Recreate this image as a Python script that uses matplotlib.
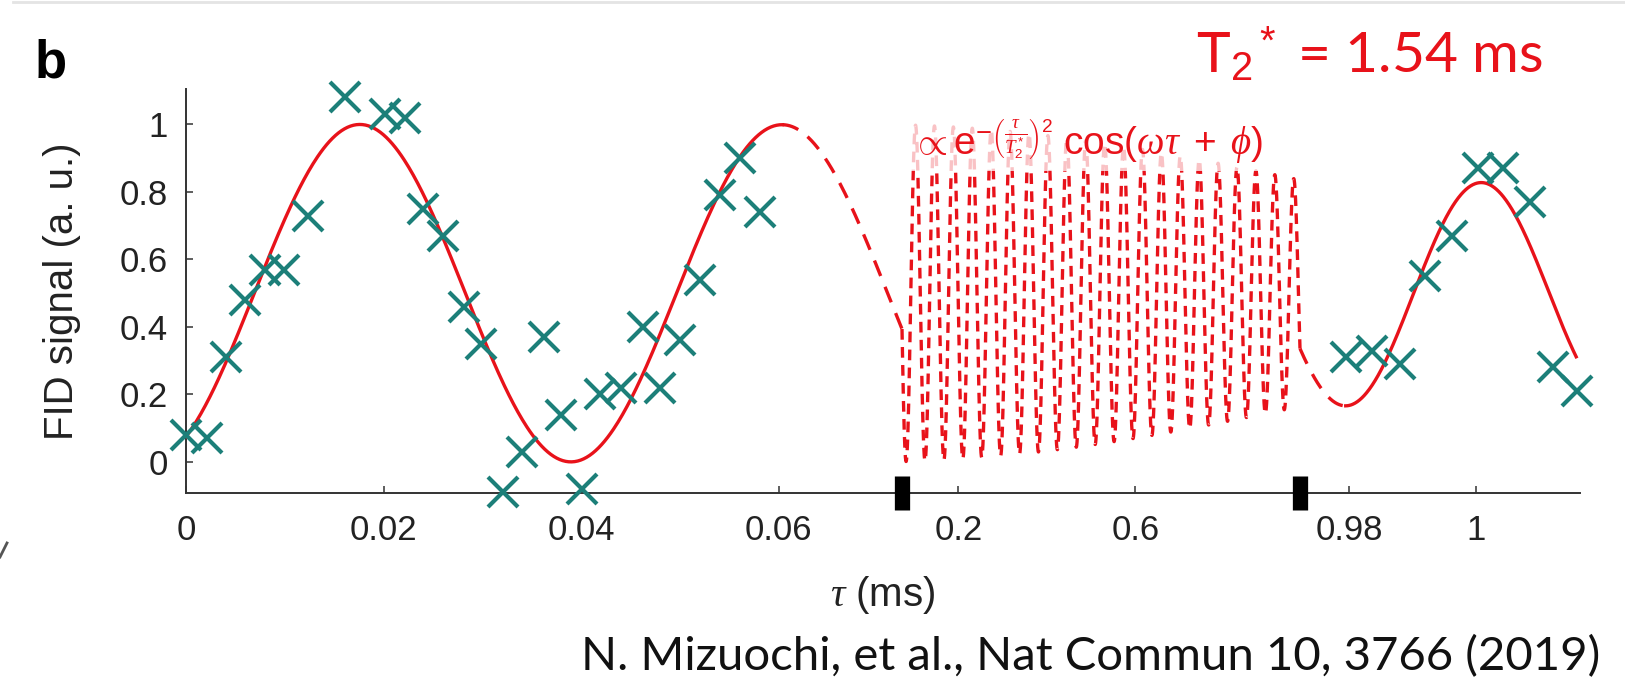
import numpy as np
import matplotlib
matplotlib.use("Agg")
import matplotlib.pyplot as plt
from matplotlib.lines import Line2D

plt.rcParams["font.family"] = ["Liberation Sans", "DejaVu Sans"]
plt.rcParams["mathtext.fontset"] = "custom"
plt.rcParams["mathtext.rm"] = "Liberation Sans"
plt.rcParams["mathtext.it"] = "Liberation Serif:italic"
plt.rcParams["mathtext.bf"] = "Liberation Sans:bold"

# measured FID points, tau in ms
tau_early = [0.0, 0.0021, 0.0041, 0.0060, 0.0080, 0.0099, 0.0124, 0.0161, 0.0202, 0.0222,
             0.0240, 0.0260, 0.0281, 0.0299, 0.0321, 0.0340, 0.0362, 0.0380, 0.0401,
             0.0419, 0.0440, 0.0463, 0.0480, 0.0500, 0.0520, 0.0541, 0.0561, 0.0581]
sig_early = [0.08, 0.07, 0.31, 0.48, 0.57, 0.57, 0.73, 1.08, 1.03, 1.02,
             0.75, 0.67, 0.46, 0.35, -0.09, 0.03, 0.37, 0.14, -0.08,
             0.20, 0.22, 0.40, 0.22, 0.36, 0.54, 0.79, 0.90, 0.74]
tau_late = [0.9796, 0.9836, 0.9880, 0.9920, 0.9962, 1.0004, 1.0043, 1.0085, 1.0121, 1.0159]
sig_late = [0.31, 0.33, 0.29, 0.55, 0.67, 0.87, 0.87, 0.77, 0.28, 0.21]

# fit: offset + amp * exp(-(tau/T2)^2) * cos(omega*tau + phi)
T2_ms = 1.54
omega = 146.97        # rad/ms
phi = -2.587
fit_offset = 0.5
fit_amp = 0.5
solid_end = 0.0604    # left solid part ends here
solid_start = 0.9795  # right solid part starts here
fit_end = 1.0158

# broken axis: tau knots -> axis length units
tau_knots = [0.0, 0.0725, 0.9723, 1.0164]
axis_knots = [0.0, 716.0, 1114.0, 1394.0]
xticks = [0, 0.02, 0.04, 0.06, 0.2, 0.6, 0.98, 1]
xticklabels = ["0", "0.02", "0.04", "0.06", "0.2", "0.6", "0.98", "1"]
yticks = [0, 0.2, 0.4, 0.6, 0.8, 1]
yticklabels = ["0", "0.2", "0.4", "0.6", "0.8", "1"]

red = "#e8121a"
teal = "#1c7f79"


def fid_fit(t):
    return fit_offset + fit_amp * np.exp(-(t / T2_ms) ** 2) * np.cos(omega * t + phi)


def fwd(t):
    return np.interp(t, tau_knots, axis_knots)


def inv(u):
    return np.interp(u, axis_knots, tau_knots)


W, H = 1625, 692
fig = plt.figure(figsize=(W / 100, H / 100), dpi=100)
ax = fig.add_axes([186 / W, 1 - 493 / H, 1394 / W, 404 / H])
ax.set_xscale("function", functions=(fwd, inv))
ax.set_xlim(0, tau_knots[-1])
ax.set_ylim(-0.0919, 1.105)

t1 = np.linspace(0, solid_end, 400)
ta = np.linspace(solid_end, tau_knots[1], 200)
tb = np.linspace(tau_knots[1], tau_knots[2], 40000)
tc = np.linspace(tau_knots[2], solid_start, 200)
t3 = np.linspace(solid_start, fit_end, 400)
ax.plot(t1, fid_fit(t1), color=red, lw=2.4, zorder=3)
ax.plot(ta, fid_fit(ta), color=red, lw=2.4, dashes=(5, 3.5), zorder=3)
ax.plot(tb, fid_fit(tb), color=red, lw=2.4, dashes=(3.2, 2.2), zorder=3)
ax.plot(tc, fid_fit(tc), color=red, lw=2.4, dashes=(5, 3.5), zorder=3)
ax.plot(t3, fid_fit(t3), color=red, lw=2.4, zorder=3)

ax.plot(tau_early, sig_early, ls="none", marker="x", ms=22, mew=3,
        color=teal, clip_on=False, zorder=4)
ax.plot(tau_late, sig_late, ls="none", marker="x", ms=22, mew=3,
        color=teal, clip_on=False, zorder=4)

# break marks on the x axis
ax.plot(tau_knots[1:3], [ax.get_ylim()[0]] * 2, ls="none", marker="|",
        ms=25, mew=11, color="black", clip_on=False, zorder=6)

for s in ["top", "right"]:
    ax.spines[s].set_visible(False)
for s in ["left", "bottom"]:
    ax.spines[s].set_color("#333333")
    ax.spines[s].set_linewidth(1.4)

ax.set_xticks(xticks)
ax.set_xticklabels(xticklabels)
ax.set_yticks(yticks)
ax.set_yticklabels(yticklabels)
ax.minorticks_off()
ax.tick_params(direction="in", length=5, width=1.1, color="#333333",
               labelsize=25, labelcolor="#222222")
ax.tick_params(axis="x", pad=15)
ax.tick_params(axis="y", pad=13)

ax.set_xlabel(r"$\tau$ (ms)", fontsize=29, color="#222222")
ax.xaxis.set_label_coords(0.5, -0.2)
ax.set_ylabel("FID signal (a. u.)", fontsize=29, color="#222222")
ax.yaxis.set_label_coords(-0.075, 0.5)

fig.text(912 / W, 1 - 142 / H,
         r"$\propto \mathrm{e}^{-\left(\frac{\tau}{T_2^*}\right)^2}\ \mathrm{cos}(\omega\tau\ +\ \phi)$",
         fontsize=28, color=red, ha="left", va="center", zorder=10,
         bbox=dict(facecolor="white", alpha=0.75, edgecolor="none", pad=3))

fig.text(35 / W, 1 - 78 / H, "b", fontsize=38, fontweight="bold",
         ha="left", va="baseline", color="black")
fig.text(1543 / W, 1 - 72 / H, r"T$_2$$^*$ = 1.54 ms", family="Lato",
         fontsize=41, color=red, ha="right", va="baseline")
fig.text(1600 / W, 1 - 670 / H, "N. Mizuochi, et al., Nat Commun 10, 3766 (2019)",
         family="Lato", fontsize=34, color="#111111", ha="right", va="baseline")

fig.add_artist(Line2D([13 / W, 1], [1 - 2 / H, 1 - 2 / H], color="#e4e4e4", lw=2))
fig.add_artist(Line2D([0, 7 / W], [1 - 557 / H, 1 - 543 / H], color="#555555", lw=2))

fig.savefig("out.png", dpi=100)
